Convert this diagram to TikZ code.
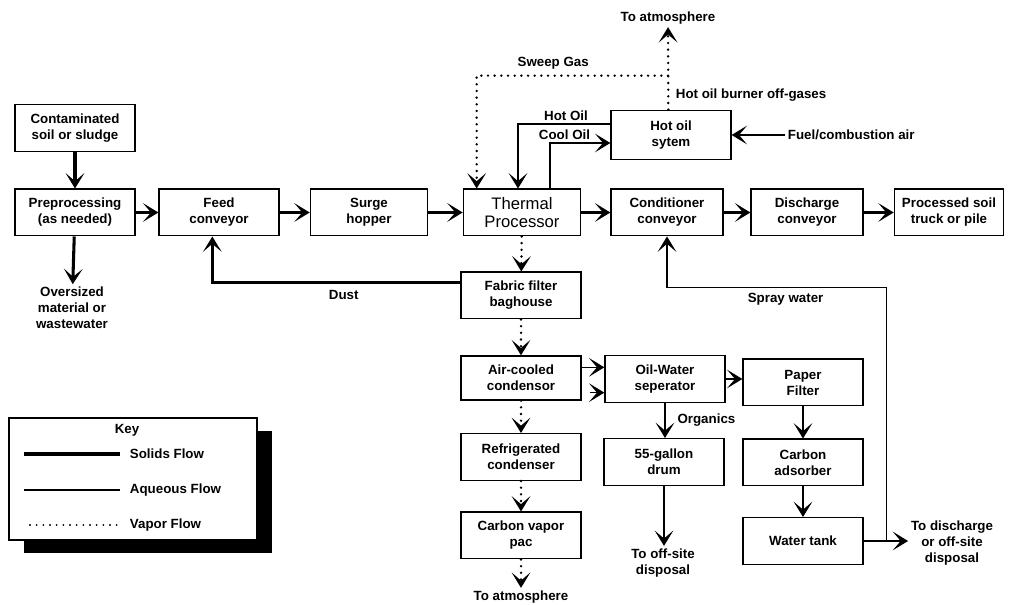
\documentclass[tikz,border=0pt]{standalone}
\usepackage{fontspec}
\setmainfont{Liberation Sans}
\usetikzlibrary{positioning,arrows.meta,calc,shadows}

\begin{document}
\begin{tikzpicture}[x=0.75pt, y=-0.75pt,
  >={Stealth[length=11.5pt,width=14pt,inset=6pt]},
  box/.style ={draw, line width=1pt, align=center, inner sep=2pt,
               minimum width=90pt, minimum height=35pt,
               font=\bfseries\fontsize{10}{12}\selectfont},
  lbl/.style ={align=center, inner sep=2pt,
               font=\bfseries\fontsize{10}{12}\selectfont},
  sl/.style  ={->, line width=2.3pt},
  al/.style  ={->, line width=0.8pt},
  vl/.style  ={->, line width=2pt, line cap=round, dash pattern=on 0pt off 5pt}]

  \useasboundingbox (0,0) rectangle (1014,605);

  % --- main solids line --------------------------------------------------
  \node[box] (contam)  at (75,128)   {Contaminated\\soil or sludge};
  \node[box] (preproc) at (75,212.5) {Preprocessing\\(as needed)};
  \node[box] (feed)    at (219,212.5) {Feed\\conveyor};
  \node[box, minimum width=88pt] (surge) at (369,212.5) {Surge\\hopper};
  \node[box, minimum width=88pt, font=\fontsize{12.5}{13}\selectfont]
    (thermal) at (522,212.5) {Thermal\\Processor};
  \node[box, minimum width=84pt] (cond)  at (667,212.5) {Conditioner\\conveyor};
  \node[box, minimum width=84pt] (disch) at (807,212.5) {Discharge\\conveyor};
  \node[box, minimum width=82pt] (proc)  at (949,212.5) {Processed soil\\truck or pile};
  \node[lbl] (oversz) at (72,308) {Oversized\\material or\\wastewater};

  % --- hot oil loop ------------------------------------------------------
  \node[box, minimum height=37pt] (hotoil) at (671,135) {Hot oil\\sytem};
  \node[lbl] (toatm) at (668,18) {To atmosphere};
  \node[lbl, anchor=west] (offgas) at (673,95) {Hot oil burner off-gases};
  \node[lbl, anchor=west] (fuel) at (785,135) {Fuel/combustion air};

  % --- gas treatment -----------------------------------------------------
  \node[box] (fabric)  at (521,295.5) {Fabric filter\\baghouse};
  \node[box, minimum height=33pt] (aircool) at (521,378) {Air-cooled\\condensor};
  \node[box] (refrig)  at (521,457)   {Refrigerated\\condenser};
  \node[box] (cvap)    at (521,535.5) {Carbon vapor\\pac};
  \node[lbl] (toatm2)  at (521,597)   {To atmosphere};

  % --- water treatment ---------------------------------------------------
  \node[box] (oilw)    at (665,379)   {Oil-Water\\seperator};
  \node[box] (drum)    at (664,462)   {55-gallon\\drum};
  \node[lbl] (offsite) at (663,563)   {To off-site\\disposal};
  \node[box] (paper)   at (803,382.5) {Paper\\Filter};
  \node[box] (cadsorb) at (803,462.5) {Carbon\\adsorber};
  \node[box] (tank)    at (803,541)   {Water tank};
  \node[lbl] (todis)   at (952,543)   {To discharge\\or off-site\\disposal};

  % --- edges -------------------------------------------------------------
  \draw[sl] (contam) -- (preproc);
  \draw[sl] (preproc) -- (feed);   \draw[sl] (feed) -- (surge);
  \draw[sl] (surge) -- (thermal);  \draw[sl] (thermal) -- (cond);
  \draw[sl] (cond) -- (disch);     \draw[sl] (disch) -- (proc);
  \draw[sl] (preproc) -- (oversz);
  \draw[sl] ([yshift=10pt]fabric.west) -| node[lbl, pos=.235, below=3pt]{Dust}
    ([xshift=-5pt]feed.south);

  \draw[vl] ([xshift=-2pt]hotoil.north) -- (toatm);
  \coordinate (sw) at ($(hotoil.north)+(-3,-34)$);
  \draw[vl] (sw) -| node[lbl, pos=.3, above=2pt]{Sweep Gas}
    ([xshift=-34pt]thermal.north);
  \draw[al] ([yshift=8.25pt]hotoil.west) -| node[lbl, pos=.24, above]{Hot Oil}
    ([xshift=-3pt]thermal.north);
  \draw[al] ([xshift=21pt]thermal.north) |- node[lbl, pos=.62, above]{Cool Oil}
    ([yshift=-6pt]hotoil.west);
  \draw[al] (fuel.west) -- (hotoil.east);

  \draw[vl] (thermal) -- (fabric);  \draw[vl] (fabric) -- (aircool);
  \draw[vl] (aircool) -- (refrig);  \draw[vl] (refrig) -- (cvap);
  \draw[vl] (cvap) -- (toatm2);

  \coordinate (ac1) at ([yshift=8pt]aircool.east);
  \coordinate (ac2) at ([yshift=-11pt,xshift=6.5pt]aircool.east);
  \draw[al] (ac1) -- (ac1 -| oilw.west);
  \draw[al] (ac2) -- (ac2 -| oilw.west);
  \draw[al] (oilw.east) -- (oilw.east -| paper.west);
  \draw[al] (oilw.south) -- node[lbl, right=7pt]{Organics} (oilw.south |- drum.north);
  \draw[al] (drum.south) -- (drum.south |- offsite.north);
  \draw[al] (paper) -- (cadsorb);   \draw[al] (cadsorb) -- (tank);
  \draw[al] (tank.east) -- (tank.east -| todis.west);

  % spray water back to the conditioner
  \coordinate (spray) at ($(tank.east)+(23,0)$);
  \coordinate (sprtop) at ($(cond.south)+(0,51)$);
  \draw[al] (spray) |- node[lbl, pos=.73, below=2pt]{Spray water} (sprtop) -- (cond.south);

  % --- key ---------------------------------------------------------------
  \node[draw, line width=1pt, fill=white, minimum width=186pt, minimum height=91.5pt,
        drop shadow={shadow xshift=11pt, shadow yshift=-9.5pt, opacity=1, fill=black}]
    (keybox) at (133,479) {};
  \node[lbl] (keyttl) at (127,430) {Key};
  \node[lbl, anchor=west] (ksol) at (127,454) {Solids Flow};
  \node[lbl, anchor=west] (kaq)  at (127,490) {Aqueous Flow};
  \node[lbl, anchor=west] (kvap) at (127,525) {Vapor Flow};
  \coordinate (k1) at (24,454);
  \coordinate (k2) at (24,490);
  \coordinate (k3) at (30,525);
  \draw[line width=2.3pt] (k1) -- ([xshift=-5pt]ksol.west);
  \draw[line width=0.8pt] (k2) -- ([xshift=-5pt]kaq.west);
  \draw[line width=1.6pt, line cap=round, dash pattern=on 0pt off 5pt]
    (k3) -- ([xshift=-5pt]kvap.west);
\end{tikzpicture}
\end{document}
